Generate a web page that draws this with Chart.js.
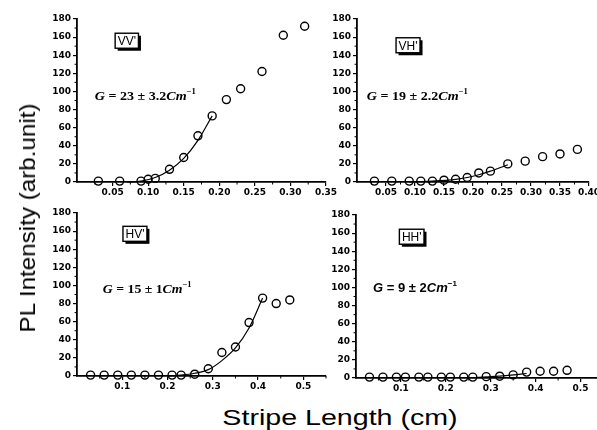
<!DOCTYPE html>
<html>
<head>
<meta charset="utf-8">
<script src="https://cdn.jsdelivr.net/npm/chart.js@4.4.1/dist/chart.umd.min.js"></script>
<style>
html, body { margin: 0; padding: 0; background: #fff; overflow: hidden; width: 597px; height: 430px; }
canvas { position: absolute; }
.axis_title { position: absolute; font-family: 'Liberation Sans', Arial, sans-serif; font-size: 22px; line-height: 22px; color: #000; white-space: nowrap; }
#y_title { left: 28px; top: 218px; transform: translate(-50%, -50%) rotate(-90deg) scaleX(1.1); }
#x_title { left: 340px; top: 407px; transform: translateX(-50%) scaleX(1.3); }
</style>
</head>
<body>
<canvas id="vv_chart"></canvas>
<canvas id="vh_chart"></canvas>
<canvas id="hv_chart"></canvas>
<canvas id="hh_chart"></canvas>
<div class="axis_title" id="y_title">PL Intensity (arb.unit)</div>
<div class="axis_title" id="x_title">Stripe Length (cm)</div>
<script>
// shared y axis (PL intensity)
const y_ticks = [0, 20, 40, 60, 80, 100, 120, 140, 160, 180]
const y_minor = [10, 30, 50, 70, 90, 110, 130, 150, 170]

// VV' panel
const vv_x = [0.03, 0.06, 0.09, 0.10, 0.11, 0.13, 0.15, 0.17, 0.19, 0.21, 0.23, 0.26, 0.29, 0.32]
const vv_y = [1, 1, 1, 3, 4, 14, 27, 51, 73, 91, 103, 122, 162, 172]
const vv_fit_x = [0.07, 0.09, 0.11, 0.13, 0.15, 0.17, 0.19]
const vv_fit_y = [0, 1, 5, 13, 26, 46, 73]
const vv_x_ticks = [0.05, 0.10, 0.15, 0.20, 0.25, 0.30, 0.35]
const vv_x_labels = ['0.05', '0.10', '0.15', '0.20', '0.25', '0.30', '0.35']

// VH' panel
const vh_x = [0.03, 0.06, 0.09, 0.11, 0.13, 0.15, 0.17, 0.19, 0.21, 0.23, 0.26, 0.29, 0.32, 0.35, 0.38]
const vh_y = [1, 1, 1, 1, 1, 2, 3, 5, 10, 12, 20, 23, 28, 31, 36]
const vh_fit_x = [0.09, 0.13, 0.17, 0.19, 0.21, 0.23, 0.26]
const vh_fit_y = [0, 1, 3, 5, 8, 12, 19]
const vh_x_ticks = [0.05, 0.10, 0.15, 0.20, 0.25, 0.30, 0.35, 0.40]
const vh_x_labels = ['0.05', '0.10', '0.15', '0.20', '0.25', '0.30', '0.35', '0.40']

// HV' panel
const hv_x = [0.03, 0.06, 0.09, 0.12, 0.15, 0.18, 0.21, 0.23, 0.26, 0.29, 0.32, 0.35, 0.38, 0.41, 0.44, 0.47]
const hv_y = [1, 1, 1, 1, 1, 1, 1, 1, 2, 8, 26, 32, 59, 86, 80, 84]
const hv_fit_x = [0.20, 0.23, 0.26, 0.29, 0.32, 0.35, 0.38, 0.41]
const hv_fit_y = [0, 1, 3, 7, 17, 31, 53, 86]

// HH' panel
const hh_x = [0.03, 0.06, 0.09, 0.11, 0.14, 0.16, 0.19, 0.21, 0.24, 0.26, 0.29, 0.32, 0.35, 0.38, 0.41, 0.44, 0.47]
const hh_y = [1, 1, 1, 1, 1, 1, 1, 1, 1, 1, 1.5, 2, 3.5, 6.5, 7.5, 7.5, 8.5]
const hh_fit_x = [0.26, 0.30, 0.34, 0.38]
const hh_fit_y = [0.5, 1.5, 3, 5]

const h_x_ticks = [0.1, 0.2, 0.3, 0.4, 0.5]
const h_x_labels = ['0.1', '0.2', '0.3', '0.4', '0.5']
const h_x_minor = [0.05, 0.15, 0.25, 0.35, 0.45, 0.55]
const v_x_minor = [0.025, 0.075, 0.125, 0.175, 0.225, 0.275, 0.325, 0.375]

const to_points = (xs, ys) => xs.map((x, i) => ({ x: x, y: ys[i] }))

// minor tick marks on both axes
const minor_ticks_plugin = {
  id: 'minor_ticks',
  afterDraw(chart, args, opts) {
    const { ctx, chartArea, scales } = chart
    ctx.save()
    ctx.strokeStyle = '#000'
    ctx.lineWidth = 1
    ctx.beginPath()
    opts.x.forEach(v => {
      if (v > scales.x.max) return
      const px = scales.x.getPixelForValue(v)
      ctx.moveTo(px, chartArea.bottom)
      ctx.lineTo(px, chartArea.bottom + 2.5)
    })
    opts.y.forEach(v => {
      const py = scales.y.getPixelForValue(v)
      ctx.moveTo(chartArea.left - 2.5, py)
      ctx.lineTo(chartArea.left, py)
    })
    ctx.stroke()
    ctx.restore()
  }
}

// polarisation tag box and gain text
const panel_note_plugin = {
  id: 'panel_note',
  afterDatasetsDraw(chart, args, opts) {
    const { ctx, scales: { x, y } } = chart
    ctx.save()
    const bx = x.getPixelForValue(opts.tag_at[0])
    const by = y.getPixelForValue(opts.tag_at[1])
    ctx.font = '12px "Liberation Sans", Arial, sans-serif'
    const w = ctx.measureText(opts.tag).width + 5
    const h = 15
    ctx.fillStyle = '#000'
    ctx.fillRect(bx - w / 2 + 2.5, by - h / 2 + 2.5, w, h)
    ctx.fillStyle = '#fff'
    ctx.fillRect(bx - w / 2, by - h / 2, w, h)
    ctx.strokeStyle = '#000'
    ctx.lineWidth = 1.4
    ctx.strokeRect(bx - w / 2, by - h / 2, w, h)
    ctx.fillStyle = '#000'
    ctx.textAlign = 'center'
    ctx.textBaseline = 'middle'
    ctx.fillText(opts.tag, bx, by + 1)

    const gx = x.getPixelForValue(opts.gain_at[0])
    const gy = y.getPixelForValue(opts.gain_at[1])
    ctx.translate(gx, gy + 4.5)
    ctx.scale(opts.stretch, 1)
    ctx.textAlign = 'left'
    ctx.textBaseline = 'alphabetic'
    let cx = 0
    opts.gain.forEach(part => {
      const size = part.sup ? 8 : 13
      ctx.font = (part.italic ? 'italic ' : '') + 'bold ' + size + 'px ' + opts.family
      ctx.fillText(part.t, cx, part.sup ? -5.5 : 0)
      cx += ctx.measureText(part.t).width
    })
    ctx.restore()
  }
}

function make_panel(canvas_id, area, cfg) {
  const pad_top = 12, pad_right = 16, y_w = 40, x_h = 22
  const canvas = document.getElementById(canvas_id)
  canvas.width = area.r - area.l + y_w + pad_right
  canvas.height = area.b - area.t + pad_top + x_h
  canvas.style.left = (area.l - y_w) + 'px'
  canvas.style.top = (area.t - pad_top) + 'px'

  const tick_font = { family: '"DejaVu Sans", sans-serif', size: 9, weight: 'bold' }

  return new Chart(canvas.getContext('2d'), {
    type: 'scatter',
    data: {
      datasets: [
        {
          data: to_points(cfg.fit_x, cfg.fit_y),
          showLine: true,
          borderColor: '#000',
          borderWidth: 1.2,
          pointRadius: 0,
          cubicInterpolationMode: 'monotone',
          clip: false
        },
        {
          data: to_points(cfg.pts_x, cfg.pts_y),
          pointStyle: 'circle',
          pointRadius: 4,
          pointBorderWidth: 1.4,
          pointBorderColor: '#000',
          pointBackgroundColor: 'rgba(255,255,255,0)',
          clip: false
        }
      ]
    },
    options: {
      responsive: false,
      animation: false,
      layout: { padding: { top: pad_top, right: pad_right, left: 0, bottom: 0 } },
      plugins: {
        legend: { display: false },
        tooltip: { enabled: false },
        minor_ticks: { x: cfg.x_minor, y: y_minor },
        panel_note: cfg.note
      },
      scales: {
        x: {
          type: 'linear',
          min: 0,
          max: cfg.x_max,
          afterBuildTicks: scale => { scale.ticks = cfg.x_ticks.map(v => ({ value: v })) },
          afterFit: scale => { scale.height = x_h },
          ticks: {
            color: '#000',
            font: tick_font,
            padding: 1,
            maxRotation: 0,
            autoSkip: false,
            callback: (value, index) => cfg.x_labels[index]
          },
          grid: { drawOnChartArea: false, tickLength: 4, color: '#000', lineWidth: 1.2 },
          border: { display: true, color: '#000', width: 1.8 }
        },
        y: {
          type: 'linear',
          min: 0,
          max: 180,
          afterBuildTicks: scale => { scale.ticks = y_ticks.map(v => ({ value: v })) },
          afterFit: scale => { scale.width = y_w },
          ticks: {
            color: '#000',
            font: tick_font,
            padding: 2,
            autoSkip: false,
            callback: value => String(value)
          },
          grid: { drawOnChartArea: false, tickLength: 4, color: '#000', lineWidth: 1.2 },
          border: { display: true, color: '#000', width: 1.8 }
        }
      }
    },
    plugins: [minor_ticks_plugin, panel_note_plugin]
  })
}

const serif = '"Liberation Serif", "Times New Roman", serif'
const sans = '"Liberation Sans", Arial, sans-serif'

make_panel('vv_chart', { l: 77, t: 19, r: 326, b: 182 }, {
  x_max: 0.35, x_ticks: vv_x_ticks, x_labels: vv_x_labels, x_minor: v_x_minor,
  pts_x: vv_x, pts_y: vv_y, fit_x: vv_fit_x, fit_y: vv_fit_y,
  note: {
    tag: "VV'", tag_at: [0.07, 156], gain_at: [0.025, 96], stretch: 1.08, family: serif,
    gain: [{ t: 'G', italic: true }, { t: ' = 23 ± 3.2' }, { t: 'Cm', italic: true }, { t: '−1', sup: true }]
  }
})

make_panel('vh_chart', { l: 357, t: 19, r: 589, b: 182 }, {
  x_max: 0.40, x_ticks: vh_x_ticks, x_labels: vh_x_labels, x_minor: v_x_minor,
  pts_x: vh_x, pts_y: vh_y, fit_x: vh_fit_x, fit_y: vh_fit_y,
  note: {
    tag: "VH'", tag_at: [0.088, 151], gain_at: [0.017, 96], stretch: 1.08, family: serif,
    gain: [{ t: 'G', italic: true }, { t: ' = 19 ± 2.2' }, { t: 'Cm', italic: true }, { t: '−1', sup: true }]
  }
})

make_panel('hv_chart', { l: 77, t: 213, r: 326, b: 376 }, {
  x_max: 0.55, x_ticks: h_x_ticks, x_labels: h_x_labels, x_minor: h_x_minor,
  pts_x: hv_x, pts_y: hv_y, fit_x: hv_fit_x, fit_y: hv_fit_y,
  note: {
    tag: "HV'", tag_at: [0.128, 157], gain_at: [0.057, 97], stretch: 1.06, family: serif,
    gain: [{ t: 'G', italic: true }, { t: ' = 15 ± 1' }, { t: 'Cm', italic: true }, { t: '−1', sup: true }]
  }
})

make_panel('hh_chart', { l: 356, t: 215, r: 603, b: 378 }, {
  x_max: 0.55, x_ticks: h_x_ticks, x_labels: h_x_labels, x_minor: h_x_minor,
  pts_x: hh_x, pts_y: hh_y, fit_x: hh_fit_x, fit_y: hh_fit_y,
  note: {
    tag: "HH'", tag_at: [0.124, 156], gain_at: [0.038, 100], stretch: 1.0, family: sans,
    gain: [{ t: 'G', italic: true }, { t: ' = 9 ± 2' }, { t: 'Cm', italic: true }, { t: '−1', sup: true }]
  }
})
</script>
</body>
</html>
